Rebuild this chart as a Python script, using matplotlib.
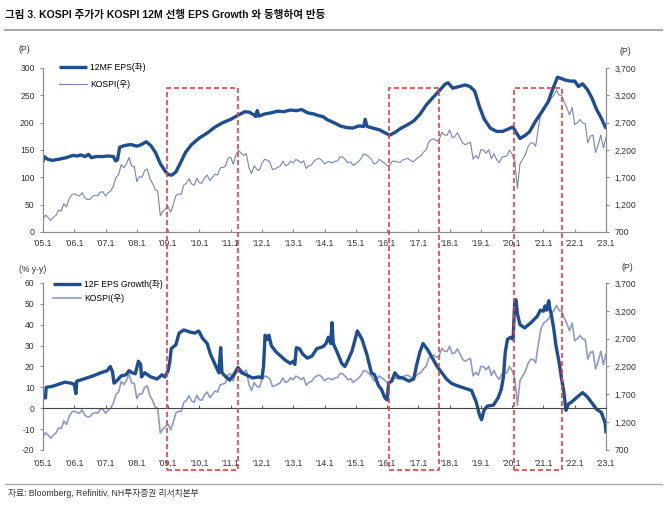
import matplotlib
matplotlib.use('Agg')
import matplotlib.pyplot as plt
from matplotlib import font_manager
from matplotlib.patches import Rectangle
from matplotlib.lines import Line2D
import matplotlib.transforms as mtransforms
import numpy as np

names = {f.name for f in font_manager.fontManager.ttflist}
latin = 'Liberation Sans Narrow' if 'Liberation Sans Narrow' in names else 'Liberation Sans'
plt.rcParams['font.family'] = [latin, 'Noto Sans CJK KR', 'DejaVu Sans']
plt.rcParams['axes.unicode_minus'] = False

# ---------------- data ----------------
title = "그림 3. KOSPI 주가가 KOSPI 12M 선행 EPS Growth 와 동행하여 반등"
source = "자료: Bloomberg, Refinitiv, NH투자증권 리서치본부"

year_ticks = list(range(2005, 2024))
year_labels = ["'%02d.1" % (y % 100) for y in year_ticks]

# KOSPI monthly (Jan 2005 .. Jan 2023)
kospi = [
    932, 1011, 965, 912, 970, 1008, 1097, 1083, 1221, 1158, 1297, 1379,
    1399, 1372, 1359, 1420, 1327, 1295, 1297, 1352, 1371, 1364, 1432, 1434,
    1360, 1417, 1452, 1542, 1700, 1743, 1933, 1873, 1946, 2064, 1906, 1897,
    1624, 1711, 1704, 1825, 1852, 1674, 1594, 1474, 1448, 1000, 1076, 1124,
    1162, 1063, 1206, 1369, 1395, 1390, 1557, 1591, 1673, 1580, 1555, 1682,
    1602, 1594, 1692, 1741, 1641, 1698, 1759, 1742, 1872, 1883, 1905, 2051,
    2069, 1939, 2107, 2192, 2142, 2100, 2133, 1880, 1770, 1909, 1847, 1826,
    1956, 2030, 2014, 1981, 1843, 1854, 1881, 1905, 1996, 1912, 1933, 1997,
    1962, 2027, 2005, 1964, 2001, 1863, 1914, 1926, 1997, 2031, 2045, 2011,
    1941, 1980, 1986, 1962, 1995, 2002, 2076, 2068, 2020, 1964, 1981, 1916,
    1949, 1986, 2041, 2127, 2115, 2074, 2030, 1941, 1963, 2029, 1992, 1961,
    1912, 1917, 1996, 1994, 1983, 1970, 2016, 2035, 2044, 2008, 1983, 2026,
    2068, 2092, 2160, 2205, 2347, 2392, 2403, 2363, 2394, 2523, 2476, 2467,
    2566, 2427, 2446, 2516, 2423, 2326, 2295, 2323, 2343, 2030, 2097, 2041,
    2205, 2195, 2141, 2204, 2042, 2130, 2025, 1968, 2063, 2083, 2087, 2198,
    2119, 1987, 1500, 1947, 2030, 2108, 2249, 2326, 2328, 2267, 2591, 2873,
    2976, 3013, 3061, 3148, 3204, 3297, 3202, 3199, 3069, 2971, 2839, 2978,
    2663, 2699, 2757, 2695, 2685, 2333, 2452, 2472, 2155, 2293, 2473, 2236,
    2425,
]
kospi_x = 2005 + np.arange(len(kospi)) / 12.0

# 12MF EPS
eps_x = [2005.00, 2005.03, 2005.15, 2005.30, 2005.50, 2005.75, 2005.95, 2006.10, 2006.20, 2006.35,
         2006.45, 2006.55, 2006.70, 2006.90, 2007.10, 2007.25, 2007.32, 2007.38, 2007.45, 2007.60,
         2007.80, 2008.00, 2008.15, 2008.30, 2008.45, 2008.60, 2008.75, 2008.90, 2009.00, 2009.12,
         2009.25, 2009.40, 2009.55, 2009.75, 2010.00, 2010.25, 2010.50, 2010.75, 2011.00, 2011.25,
         2011.45, 2011.60, 2011.75, 2011.80, 2011.85, 2011.90, 2012.10, 2012.30, 2012.50, 2012.70,
         2012.90, 2013.10, 2013.27, 2013.45, 2013.65, 2013.80, 2013.95, 2014.10, 2014.30, 2014.50,
         2014.70, 2014.90, 2015.10, 2015.25, 2015.30, 2015.36, 2015.55, 2015.75, 2015.95, 2016.08,
         2016.25, 2016.45, 2016.65, 2016.85, 2017.05, 2017.25, 2017.45, 2017.65, 2017.85, 2017.95,
         2018.10, 2018.30, 2018.50, 2018.65, 2018.80, 2018.95, 2019.10, 2019.30, 2019.50, 2019.70,
         2019.90, 2020.02, 2020.15, 2020.25, 2020.40, 2020.55, 2020.75, 2020.95, 2021.15, 2021.30,
         2021.45, 2021.55, 2021.70, 2021.85, 2022.00, 2022.12, 2022.25, 2022.40, 2022.55, 2022.70,
         2022.85, 2023.00]
eps_v = [128, 138, 133, 131, 133, 136, 140, 139, 141, 138,
         142, 136, 138, 138, 139, 138, 130, 132, 155, 158,
         160, 157, 160, 165, 158, 145, 125, 112, 105, 104,
         110, 127, 145, 160, 172, 181, 192, 200, 206, 214,
         220, 219, 214, 211, 222, 212, 216, 218, 221, 220,
         223, 222, 224, 218, 216, 213, 211, 205, 200, 194,
         191, 190, 194, 193, 206, 193, 190, 187, 181, 177,
         182, 190, 196, 203, 215, 232, 245, 257, 270, 273,
         263, 266, 269, 266, 258, 230, 207, 190, 184, 184,
         189, 192, 180, 171, 176, 183, 203, 220, 238, 262,
         283, 281, 278, 276, 276, 266, 271, 261, 245, 224,
         208, 189]

# 12F EPS Growth (% y-y)
gr_x = [2005.00, 2005.08, 2005.10, 2005.30, 2005.50, 2005.70, 2005.90, 2006.00, 2006.05, 2006.08,
        2006.30, 2006.60, 2006.85, 2007.05, 2007.15, 2007.22, 2007.27, 2007.35, 2007.50, 2007.65,
        2007.75, 2007.85, 2007.95, 2008.05, 2008.12, 2008.15, 2008.25, 2008.45, 2008.65, 2008.80,
        2008.90, 2009.00, 2009.05, 2009.10, 2009.25, 2009.35, 2009.50, 2009.70, 2009.85, 2009.98,
        2010.10, 2010.25, 2010.35, 2010.50, 2010.62, 2010.68, 2010.72, 2010.85, 2010.97, 2011.10,
        2011.23, 2011.35, 2011.50, 2011.70, 2011.90, 2012.00, 2012.05, 2012.10, 2012.18, 2012.22,
        2012.30, 2012.45, 2012.60, 2012.75, 2012.90, 2013.00, 2013.05, 2013.10, 2013.20, 2013.30,
        2013.45, 2013.60, 2013.75, 2013.95, 2014.05, 2014.12, 2014.20, 2014.24, 2014.28, 2014.40,
        2014.55, 2014.65, 2014.75, 2014.88, 2014.98, 2015.05, 2015.20, 2015.35, 2015.50, 2015.60,
        2015.72, 2015.82, 2015.93, 2016.00, 2016.05, 2016.15, 2016.25, 2016.35, 2016.50, 2016.70,
        2016.85, 2016.95, 2017.05, 2017.15, 2017.30, 2017.45, 2017.60, 2017.75, 2017.90, 2018.05,
        2018.20, 2018.30, 2018.50, 2018.70, 2018.85, 2018.95, 2019.02, 2019.10, 2019.20, 2019.40,
        2019.55, 2019.65, 2019.72, 2019.78, 2019.85, 2019.95, 2020.03, 2020.08, 2020.12, 2020.17,
        2020.25, 2020.40, 2020.60, 2020.80, 2020.90, 2021.00, 2021.05, 2021.10, 2021.17, 2021.20,
        2021.25, 2021.33, 2021.40, 2021.50, 2021.58, 2021.65, 2021.72, 2021.80, 2021.90, 2022.05,
        2022.25, 2022.40, 2022.55, 2022.70, 2022.85, 2022.92, 2022.97, 2023.00]
gr_v = [5, 5, 10, 10.5, 11.5, 12.5, 12, 11.5, 7, 13,
        14, 15.5, 17, 18, 20, 17.5, 12, 13, 15.5, 16,
        18, 17, 16.5, 22.5, 21, 15, 17, 15, 14, 16,
        15, 18, 22, 28.5, 30.5, 36, 37.5, 36.5, 36, 37,
        33.5, 31, 26, 21, 17, 29, 17, 15, 13.5, 16,
        19.5, 17, 16, 14.5, 15, 14.5, 20, 35, 33, 35,
        30, 27, 25, 23, 21.5, 22.5, 21, 29, 28.5, 26,
        24, 25, 28.5, 29.5, 31, 34, 31, 41, 31, 27,
        21.5, 20, 23, 27.5, 33, 37, 33, 26, 17, 16,
        11, 9, 5, 4, 12, 13, 17, 15, 14.5, 13,
        14, 21, 27, 31, 28, 24, 20, 17, 14, 12,
        11, 10.5, 9.5, 8.5, 3, -3, -5.5, -1, 1, 1.5,
        5, 9, 15, 27, 33, 34, 33, 51, 52, 45,
        40, 38.5, 41, 44, 47, 46.5, 49, 47, 51.5, 48,
        45, 38, 30, 22, 14, 8, -1, 2, 3, 5,
        7.5, 5.5, 2.5, -0.5, -2, -5, -7, -12]

# highlighted periods (start, end) in years
box_start = [2008.97, 2016.05, 2020.05]
box_end = [2011.24, 2017.66, 2021.58]

left_top_ticks = [0, 50, 100, 150, 200, 250, 300]
right_ticks = [700, 1200, 1700, 2200, 2700, 3200, 3700]
right_labels = ['700', '1,200', '1,700', '2,200', '2,700', '3,200', '3,700']
left_bot_ticks = [-20, -10, 0, 10, 20, 30, 40, 50, 60]

# ---------------- style ----------------
BLUE = '#1d4d92'
KOSPI_TOP = '#7484b8'
KOSPI_BOT = '#8c9acb'
RED = '#f03c3c'
SPINE = '#8c8c8c'
TXT = '#333333'
FS = 6.2

fig = plt.figure(figsize=(6.7, 5.11), dpi=100)

def style_axes(ax, axr):
    ax.set_zorder(axr.get_zorder() + 1)
    ax.patch.set_visible(False)
    for a in (ax, axr):
        a.spines['top'].set_visible(False)
        for s in ('left', 'right', 'bottom'):
            a.spines[s].set_color(SPINE)
            a.spines[s].set_linewidth(0.8)
    ax.tick_params(axis='y', direction='out', length=2, colors=SPINE, labelcolor=TXT, labelsize=FS, pad=4)
    axr.tick_params(axis='y', direction='out', length=2, colors=SPINE, labelcolor=TXT, labelsize=FS, pad=4)
    ax.set_xlim(2005, 2023)
    ax.set_xticks(year_ticks)
    ax.set_xticklabels(year_labels)
    axr.set_ylim(700, 3700)
    axr.set_yticks(right_ticks)
    axr.set_yticklabels(right_labels)

# ---- top panel ----
ax1 = fig.add_axes([0.0642, 0.546, 0.8403, 0.321])
ax1r = ax1.twinx()
style_axes(ax1, ax1r)
l1, = ax1.plot(eps_x, eps_v, color=BLUE, lw=2.4, solid_capstyle='butt', label='12MF EPS(좌)')
l2, = ax1r.plot(kospi_x, kospi, color=KOSPI_TOP, lw=0.8, label='KOSPI(우)')
ax1.set_ylim(0, 300)
ax1.set_yticks(left_top_ticks)
ax1.tick_params(axis='x', direction='in', length=2.5, colors=SPINE, labelcolor=TXT, labelsize=FS, pad=5)
ax1.legend([l1, l2], ['12MF EPS(좌)', 'KOSPI(우)'], loc='upper left',
           bbox_to_anchor=(0.088, 0.876), bbox_transform=fig.transFigure,
           frameon=False, fontsize=FS, handlelength=3.3, handletextpad=0.3,
           labelspacing=0.9, borderpad=0, borderaxespad=0)

# ---- bottom panel ----
ax2 = fig.add_axes([0.0642, 0.1194, 0.8403, 0.3268])
ax2r = ax2.twinx()
style_axes(ax2, ax2r)
ax2r.spines['bottom'].set_visible(False)
l3, = ax2.plot(gr_x, gr_v, color=BLUE, lw=2.4, solid_capstyle='butt')
l4, = ax2r.plot(kospi_x, kospi, color=KOSPI_BOT, lw=1.2)
ax2.set_ylim(-20, 60)
ax2.set_yticks(left_bot_ticks)
ax2.spines['bottom'].set_position(('data', 0))
ax2.spines['bottom'].set_color('#444444')
ax2.tick_params(axis='x', direction='in', length=2.5, colors='#666666', labelcolor=TXT, labelsize=FS, pad=36.5)
ax2.legend([l3, l4], ['12F EPS Growth(좌)', 'KOSPI(우)'], loc='upper left',
           bbox_to_anchor=(0.079, 0.452), bbox_transform=fig.transFigure,
           frameon=False, fontsize=FS, handlelength=3.3, handletextpad=0.3,
           labelspacing=0.55, borderpad=0, borderaxespad=0)

# ---- highlight boxes spanning both panels ----
trans = mtransforms.blended_transform_factory(ax1.transData, fig.transFigure)
y_top = 1 - 88 / 511
y_bot = 1 - 470 / 511
for s, e in zip(box_start, box_end):
    r = Rectangle((s, y_bot), e - s, y_top - y_bot, transform=trans, fill=False,
                  edgecolor=RED, lw=1.2, linestyle=(0, (3, 1.8)), clip_on=False, zorder=10)
    fig.add_artist(r)

# ---- texts ----
fig.text(0.0075, 1 - 15 / 511, title, fontsize=7.6, fontweight='bold', color='#111111',
         ha='left', va='center')
fig.add_artist(Line2D([0.0075, 0.988], [1 - 30 / 511, 1 - 30 / 511], color='#a8a8a8', lw=1.4))
fig.add_artist(Line2D([0.0075, 0.988], [1 - 484 / 511, 1 - 484 / 511], color='#a8a8a8', lw=1.0))
fig.text(0.012, 1 - 494 / 511, source, fontsize=6.3, color=TXT, ha='left', va='center')

fig.text(24 / 670, 1 - 50 / 511, '(P)', fontsize=FS, color=TXT, ha='center', va='center')
fig.text(625 / 670, 1 - 51 / 511, '(P)', fontsize=FS, color=TXT, ha='center', va='center')
fig.text(33 / 670, 1 - 269 / 511, '(% y-y)', fontsize=FS, color=TXT, ha='center', va='center')
fig.text(627 / 670, 1 - 267 / 511, '(P)', fontsize=FS, color=TXT, ha='center', va='center')

fig.savefig('out.png', dpi=100)
